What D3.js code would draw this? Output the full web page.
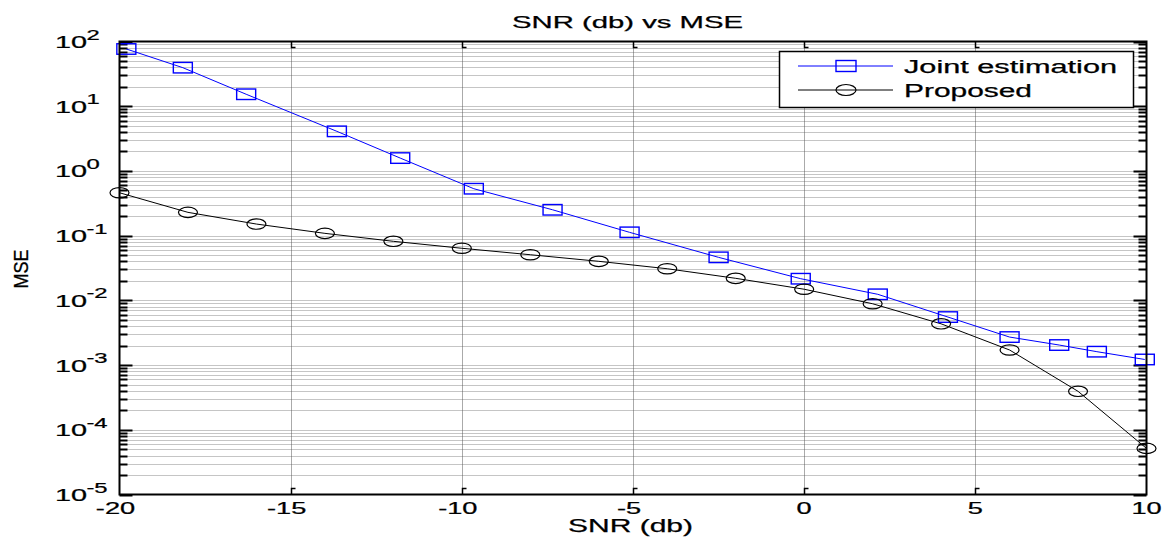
<!DOCTYPE html>
<html>
<head>
<meta charset="utf-8">
<script src="https://cdn.jsdelivr.net/npm/d3@7"></script>
<style>
  body { margin: 0; background: #fff; }
  text { font-family: "Liberation Sans", Arial, Helvetica, sans-serif; fill: #000; stroke: #000; stroke-width: 0.25px; }
</style>
</head>
<body>
<div id="chart"></div>
<script>
// data
var jointSNR = [-19.8, -18.15, -16.3, -13.65, -11.8, -9.65, -7.35, -5.1, -2.5, -0.1, 2.15, 4.2, 6.0, 7.45, 8.55, 9.95];
var jointMSE = [76.6, 39.4, 15.3, 4.09, 1.58, 0.531, 0.251, 0.1125, 0.0462, 0.0216, 0.0124, 0.00552, 0.00271, 0.00204, 0.00161, 0.00122];
var propSNR = [-20, -18, -16, -14, -12, -10, -8, -6, -4, -2, 0, 2, 4, 6, 8, 10];
var propMSE = [0.46, 0.229, 0.151, 0.1085, 0.0817, 0.0638, 0.0507, 0.0401, 0.0308, 0.0219, 0.01485, 0.00886, 0.00434, 0.00171, 0.000393, 0.0000516];
var xTicks = [-20, -15, -10, -5, 0, 5, 10];
var yExps = [-5, -4, -3, -2, -1, 0, 1, 2];
var seriesNames = ["Joint estimation", "Proposed"];

var width = 1165,
    height = 542,
    mLeft = 119.5, mRight = 1146.5, mTop = 41.5, mBottom = 494.5,
    SX = 1.7;

var svg = d3.select("#chart").append("svg")
    .attr("width", width)
    .attr("height", height);

var x = d3.scaleLinear().domain([-20, 10]).range([mLeft, mRight]);
var y = d3.scaleLog().domain([1e-5, 1e2]).range([mBottom, mTop]);

// white plot area
svg.append("rect")
    .attr("x", mLeft).attr("y", mTop)
    .attr("width", mRight - mLeft).attr("height", mBottom - mTop)
    .attr("fill", "#fff");

// minor + major y values
var yGrid = [];
yExps.forEach(function (e) {
    if (e == 2) { yGrid.push(100); return; }
    for (var m = 1; m < 10; m++) yGrid.push(m * Math.pow(10, e));
});

var grid = svg.append("g");
grid.selectAll("line.hg")
    .data(yGrid.filter(function (v) { return v > 1e-5 && v < 100; }))
    .enter().append("line")
    .attr("class", "hg")
    .attr("x1", mLeft).attr("x2", mRight)
    .attr("y1", function (d) { return Math.round(y(d)) + 0.5; })
    .attr("y2", function (d) { return Math.round(y(d)) + 0.5; })
    .attr("stroke", "#8a8a8a")
    .attr("stroke-dasharray", "1,1");

grid.selectAll("line.vg")
    .data(xTicks.slice(1, -1))
    .enter().append("line")
    .attr("class", "vg")
    .attr("y1", mTop).attr("y2", mBottom)
    .attr("x1", function (d) { return Math.round(x(d)) + 0.5; })
    .attr("x2", function (d) { return Math.round(x(d)) + 0.5; })
    .attr("stroke", "#555")
    .attr("stroke-dasharray", "1,1");

// y ticks, both sides
var ticks = svg.append("g").attr("stroke", "#000").attr("stroke-width", 2);
yGrid.forEach(function (v) {
    var yy = Math.round(y(v)) + 0.5;
    var major = Math.abs(Math.log10(v) - Math.round(Math.log10(v))) < 1e-9;
    var len = major ? 13 : 8;
    ticks.append("line").attr("x1", mLeft).attr("x2", mLeft + len).attr("y1", yy).attr("y2", yy);
    ticks.append("line").attr("x1", mRight).attr("x2", mRight - len).attr("y1", yy).attr("y2", yy);
});
// x ticks, top and bottom
xTicks.slice(1, -1).forEach(function (v) {
    var xx = Math.round(x(v)) + 0.5;
    ticks.append("path").attr("fill", "none").attr("stroke-width", 1.5)
        .attr("d", "M" + xx + "," + mBottom + "v-6h4");
    ticks.append("path").attr("fill", "none").attr("stroke-width", 1.5)
        .attr("d", "M" + xx + "," + mTop + "v6h4");
});

// series
var line = d3.line()
    .x(function (d) { return x(d[0]); })
    .y(function (d) { return y(d[1]); });

var joint = d3.zip(jointSNR, jointMSE);
var prop = d3.zip(propSNR, propMSE);

svg.append("path").datum(joint)
    .attr("d", line).attr("fill", "none")
    .attr("stroke", "#0000ff").attr("stroke-width", 1);
svg.append("path").datum(prop)
    .attr("d", line).attr("fill", "none")
    .attr("stroke", "#000").attr("stroke-width", 1);

svg.selectAll("rect.sq").data(joint).enter().append("rect")
    .attr("class", "sq")
    .attr("x", function (d) { return x(d[0]) - 9.5; })
    .attr("y", function (d) { return y(d[1]) - 5.25; })
    .attr("width", 19).attr("height", 10.5)
    .attr("fill", "none").attr("stroke", "#0000ff").attr("stroke-width", 1.4);

svg.selectAll("ellipse.ci").data(prop).enter().append("ellipse")
    .attr("class", "ci")
    .attr("cx", function (d) { return x(d[0]); })
    .attr("cy", function (d) { return y(d[1]); })
    .attr("rx", 9.5).attr("ry", 5.2)
    .attr("fill", "none").attr("stroke", "#000").attr("stroke-width", 1.2);

// axes box
svg.append("rect")
    .attr("x", mLeft).attr("y", mTop)
    .attr("width", mRight - mLeft).attr("height", mBottom - mTop)
    .attr("fill", "none").attr("stroke", "#000").attr("stroke-width", 2);

// x tick labels
svg.selectAll("text.xt").data(xTicks).enter().append("text")
    .attr("class", "xt")
    .attr("transform", function (d) {
        return "translate(" + (x(d) - (d < 0 ? 4 : 0)) + ",514) scale(" + SX + ",1)";
    })
    .attr("text-anchor", "middle")
    .style("font-size", "16px")
    .text(function (d) { return d; });

// y tick labels 10^e
var yl = svg.selectAll("g.yt").data(yExps).enter().append("g")
    .attr("class", "yt")
    .attr("transform", function (d) { return "translate(55," + (y(Math.pow(10, d)) + 6.5) + ") scale(" + SX + ",1)"; });
yl.append("text").style("font-size", "17px").text("10");
yl.append("text")
    .attr("x", 18.5).attr("y", -8.5)
    .style("font-size", "14px")
    .text(function (d) { return d; });

// title and axis labels
svg.append("text")
    .attr("x", 512).attr("y", 28)
    .attr("textLength", 231).attr("lengthAdjust", "spacingAndGlyphs")
    .style("font-size", "17px")
    .text("SNR (db) vs MSE");

svg.append("text")
    .attr("x", 568).attr("y", 532)
    .attr("textLength", 125).attr("lengthAdjust", "spacingAndGlyphs")
    .style("font-size", "18.5px")
    .text("SNR (db)");

svg.append("text")
    .attr("transform", "translate(27.5,269) rotate(-90) scale(1,1.12)")
    .attr("text-anchor", "middle")
    .style("font-size", "18px")
    .text("MSE");

// legend
var lg = svg.append("g");
lg.append("rect")
    .attr("x", 779.5).attr("y", 51.5).attr("width", 354).attr("height", 56)
    .attr("fill", "#fff").attr("stroke", "#000").attr("stroke-width", 1.5);

var rows = [66, 90], widths = [213, 128], colors = ["#0000ff", "#000"];
seriesNames.forEach(function (name, i) {
    lg.append("line")
        .attr("x1", 798).attr("x2", 893).attr("y1", rows[i]).attr("y2", rows[i])
        .attr("stroke", colors[i]).attr("stroke-width", 1);
    if (i == 0) {
        lg.append("rect").attr("x", 836).attr("y", rows[i] - 5.5).attr("width", 20).attr("height", 11)
            .attr("fill", "none").attr("stroke", colors[i]).attr("stroke-width", 1.4);
    } else {
        lg.append("ellipse").attr("cx", 846).attr("cy", rows[i]).attr("rx", 10).attr("ry", 5.5)
            .attr("fill", "none").attr("stroke", colors[i]).attr("stroke-width", 1.2);
    }
    lg.append("text")
        .attr("x", 904).attr("y", rows[i] + 6.7)
        .attr("textLength", widths[i]).attr("lengthAdjust", "spacingAndGlyphs")
        .style("font-size", "17.5px")
        .text(name);
});
</script>
</body>
</html>
